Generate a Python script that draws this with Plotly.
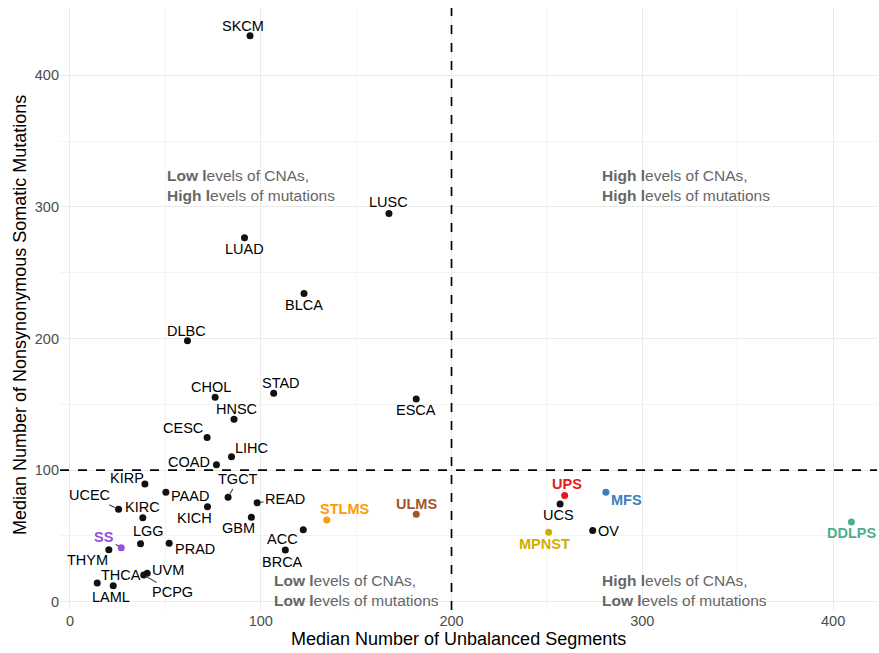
import plotly.graph_objects as go

# ---- data ----
cancer = ["SKCM", "LUSC", "LUAD", "BLCA", "DLBC", "CHOL", "STAD", "HNSC", "ESCA",
          "CESC", "LIHC", "COAD", "KIRP", "PAAD", "TGCT", "READ", "KICH", "KIRC",
          "UCEC", "GBM", "STLMS", "ULMS", "ACC", "BRCA", "LGG", "PRAD", "SS",
          "THYM", "UVM", "PCPG", "THCA", "LAML", "UPS", "MFS", "UCS", "MPNST",
          "OV", "DDLPS"]
unbalanced_segments = [94.4, 167.2, 91.5, 122.7, 61.6, 76.1, 106.8, 86.0, 181.5,
                       71.9, 84.7, 76.8, 39.3, 50.3, 82.9, 98.1, 72.1, 38.2,
                       25.5, 95.1, 134.6, 181.5, 122.3, 112.9, 37.0, 52.0, 26.9,
                       20.4, 40.5, 38.7, 14.3, 22.7, 259.3, 280.9, 256.9, 250.9,
                       274.0, 409.6]
somatic_mutations = [430.1, 295.1, 276.6, 234.3, 198.3, 155.3, 158.4, 138.6, 154.0,
                     124.8, 110.2, 104.1, 89.4, 83.1, 79.3, 75.2, 72.2, 63.8,
                     70.2, 64.1, 62.1, 66.4, 54.7, 39.3, 44.1, 44.4, 41.0,
                     39.5, 21.6, 20.3, 14.2, 12.2, 80.8, 83.1, 74.2, 52.7,
                     54.2, 60.6]
sarcoma_colors = {"SS": "#9450DA", "STLMS": "#FF9A05", "ULMS": "#A3562E",
                  "UPS": "#E41A1C", "MFS": "#3A7FBF", "MPNST": "#CFAE00",
                  "DDLPS": "#4DAF8C"}
x_ticks = [0, 100, 200, 300, 400]
y_ticks = [0, 100, 200, 300, 400]
minor_ticks = [50, 150, 250, 350]
x_cut = 200
y_cut = 100
x_title = "Median Number of Unbalanced Segments"
y_title = "Median Number of Nonsynonymous Somatic Mutations"
quadrant_text = [
    "<b>Low l</b>evels of CNAs,<br><b>High l</b>evels of mutations",
    "<b>High l</b>evels of CNAs,<br><b>High l</b>evels of mutations",
    "<b>Low l</b>evels of CNAs,<br><b>Low l</b>evels of mutations",
    "<b>High l</b>evels of CNAs,<br><b>Low l</b>evels of mutations",
]
quadrant_x = [50, 278, 105.8, 278]
quadrant_y = [316, 316, 8.5, 8.5]

# label placement (pixel offsets from point, dy downward) and whether a leader segment is drawn
label_offsets = {
    "SKCM": (-7, -10, False), "LUSC": (0, -11, False), "LUAD": (0, 11, False),
    "BLCA": (0, 12, False), "DLBC": (-1, -10, False), "CHOL": (-4, -10, False),
    "STAD": (7, -10, False), "HNSC": (2, -10, False), "ESCA": (0, 11, False),
    "CESC": (-24, -9, True), "LIHC": (20, -9, True), "COAD": (-27, -3, False),
    "KIRP": (-18, -6, False), "PAAD": (24, 4, False), "TGCT": (10, -18, True),
    "READ": (28, -4, True), "KICH": (-13, 11, False), "KIRC": (0, -11, False),
    "UCEC": (-29, -14, True), "GBM": (-13, 11, False), "STLMS": (18, -11, True),
    "ULMS": (0, -10, False), "ACC": (-21, 9, False), "BRCA": (-3, 12, False),
    "LGG": (8, -13, True), "PRAD": (26, 6, False), "SS": (-17, -11, True),
    "THYM": (-21, 10, False), "UVM": (21, -3, False), "PCPG": (29, 17, True),
    "THCA": (24, -8, False), "LAML": (-2, 11, False), "UPS": (2, -11, False),
    "MFS": (21, 8, False), "UCS": (-2, 11, False), "MPNST": (-4, 12, True),
    "OV": (16, 1, False), "DDLPS": (0, 11, True),
}

FONT = "Liberation Sans, Arial, sans-serif"
colors = [sarcoma_colors.get(c, "#111111") for c in cancer]

fig = go.Figure()
fig.add_trace(go.Scatter(
    x=unbalanced_segments, y=somatic_mutations, mode="markers",
    marker=dict(size=7, color=colors, line=dict(width=0)),
    hovertext=cancer, showlegend=False))

annotations = []
for c, xv, yv in zip(cancer, unbalanced_segments, somatic_mutations):
    dx, dy, seg = label_offsets[c]
    is_sarc = c in sarcoma_colors
    annotations.append(dict(
        x=xv, y=yv, xref="x", yref="y",
        text=f"<b>{c}</b>" if is_sarc else c,
        showarrow=True, arrowhead=0, arrowwidth=1.2, standoff=3,
        arrowcolor="#555555" if seg else "rgba(0,0,0,0)",
        ax=dx, ay=dy,
        font=dict(family=FONT, size=14.5, color=sarcoma_colors.get(c, "#000000")),
    ))
for t, qx, qy in zip(quadrant_text, quadrant_x, quadrant_y):
    annotations.append(dict(
        x=qx, y=qy, xref="x", yref="y", text=t, showarrow=False,
        xanchor="left", yanchor="middle", align="left",
        font=dict(family=FONT, size=15.5, color="#666666"),
    ))
# axis titles
annotations.append(dict(
    x=0.4878, y=-0.048, xref="paper", yref="paper", text=x_title, showarrow=False,
    xanchor="center", yanchor="middle", font=dict(family=FONT, size=18, color="#000000")))
annotations.append(dict(
    x=-0.049, y=0.49, xref="paper", yref="paper", text=y_title, showarrow=False,
    textangle=-90, xanchor="center", yanchor="middle",
    font=dict(family=FONT, size=18, color="#000000")))

shapes = [
    dict(type="line", xref="x", yref="paper", x0=x_cut, x1=x_cut, y0=0, y1=1,
         line=dict(color="black", width=1.7, dash="dash")),
    dict(type="line", xref="paper", yref="y", x0=0, x1=1, y0=y_cut, y1=y_cut,
         line=dict(color="black", width=1.7, dash="dash")),
]

grid_major = "#EBEBEB"
grid_minor = "#F4F4F4"
fig.update_layout(
    width=879, height=653,
    margin=dict(l=60, r=2, t=8, b=43, autoexpand=False),
    paper_bgcolor="white", plot_bgcolor="white",
    font=dict(family=FONT, color="#000000"),
    annotations=annotations, shapes=shapes,
    xaxis=dict(
        range=[-5.2, 423], tickmode="array", tickvals=x_ticks,
        ticktext=[str(v) for v in x_ticks], zeroline=False, showline=False,
        gridcolor=grid_major, gridwidth=1, ticks="", ticklen=0, automargin=False,
        tickfont=dict(size=14.5, color="#4D4D4D"),
        minor=dict(tickmode="array", tickvals=minor_ticks, showgrid=True,
                   gridcolor=grid_minor, gridwidth=1),
    ),
    yaxis=dict(
        range=[-6.3, 451.2], tickmode="array", tickvals=y_ticks,
        ticktext=[str(v) for v in y_ticks], zeroline=False, showline=False,
        gridcolor=grid_major, gridwidth=1, ticks="", ticklen=0, automargin=False,
        tickfont=dict(size=14.5, color="#4D4D4D"),
        minor=dict(tickmode="array", tickvals=minor_ticks, showgrid=True,
                   gridcolor=grid_minor, gridwidth=1),
    ),
)

# remove the default page margin so the 879x653 figure fills the window exactly
fig.write_html("out.html",
               config={"displayModeBar": False},
               post_script="document.body.style.margin='0';document.body.style.overflow='hidden';")
